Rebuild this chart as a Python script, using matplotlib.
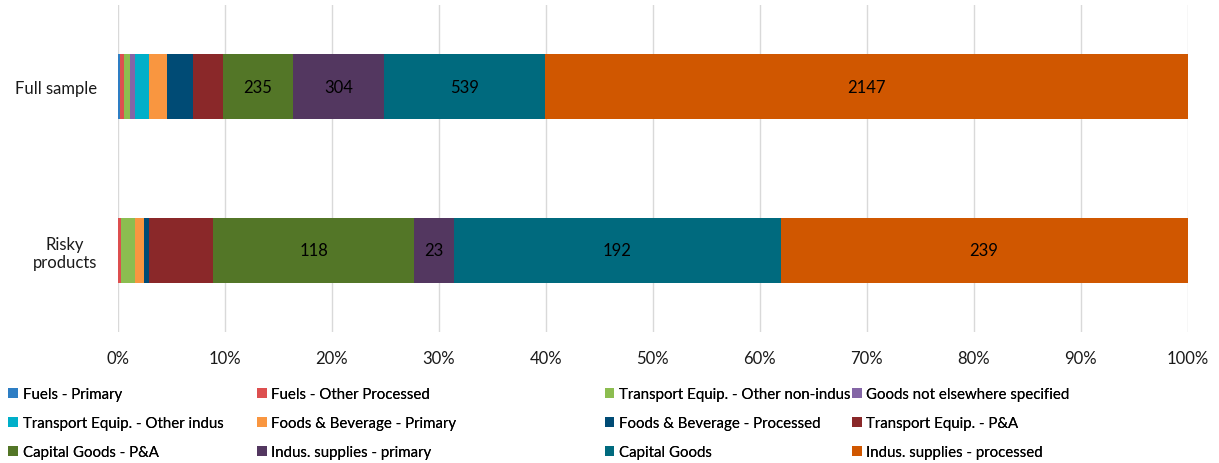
import numpy as np
import matplotlib
matplotlib.use("Agg")
from matplotlib import pyplot as plt

plt.rcParams['font.family'] = ['Lato', 'DejaVu Sans']

groups = ["Risky\nproducts", "Full sample"]

series = ["Fuels - Primary", "Fuels - Other Processed", "Transport Equip. - Other non-indus",
          "Goods not elsewhere specified", "Transport Equip. - Other indus", "Foods & Beverage - Primary",
          "Foods & Beverage - Processed", "Transport Equip. - P&A", "Capital Goods - P&A",
          "Indus. supplies - primary", "Capital Goods", "Indus. supplies - processed"]

# counts per series: [risky products, full sample]
fuels_primary = [0, 6]
fuels_other = [2, 14]
transport_nonindus = [8, 19]
goods_nes = [0, 18]
transport_indus = [0, 47]
foods_primary = [5, 60]
foods_processed = [3, 88]
transport_pa = [38, 99]
capital_pa = [118, 235]
indus_primary = [23, 304]
capital_goods = [192, 539]
indus_processed = [239, 2147]

values = [fuels_primary, fuels_other, transport_nonindus, goods_nes, transport_indus,
          foods_primary, foods_processed, transport_pa, capital_pa, indus_primary,
          capital_goods, indus_processed]

colors = ['#2E7EC4', '#DD4F4F', '#8CBD50', '#8465A6', '#00AFC9', '#F99640',
          '#004B75', '#8A2829', '#537627', '#533760', '#006A7E', '#D05700']

labelled = {"Capital Goods - P&A", "Indus. supplies - primary", "Capital Goods",
            "Indus. supplies - processed"}

counts = np.array(values, dtype=float)
totals = counts.sum(axis=0)
shares = counts / totals * 100

fs = 12
lfs = 10.8

fig = plt.figure(figsize=(12.19, 4.64), dpi=100)
ax = fig.add_axes([0.0968, 0.2823, 0.8774, 0.7047])

y = np.arange(len(groups))
left = np.zeros(len(groups))
handles = []
for name, share, cnt, col in zip(series, shares, counts, colors):
    bars = ax.barh(y, share, left=left, height=0.395, color=col, label=name, zorder=3)
    handles.append(bars)
    if name in labelled:
        for yi, l, s, c in zip(y, left, share, cnt):
            ax.text(l + s / 2, yi, f"{int(c)}", ha='center', va='center', fontsize=fs, color='black', zorder=4)
    left += share

ax.set_xlim(0, 100)
ax.set_ylim(-0.5, 1.5)
ax.set_xticks(np.arange(0, 101, 10))
ax.set_xticklabels([f"{v}%" for v in range(0, 101, 10)], fontsize=fs)
ax.set_yticks(y)
ax.set_yticklabels(groups, fontsize=fs, multialignment='center')
ax.tick_params(axis='both', length=0, colors='#1a1a1a')
ax.tick_params(axis='x', pad=13)
ax.tick_params(axis='y', pad=15)
ax.grid(axis='x', color='#D9D9D9', linewidth=1, zorder=0)
for sp in ax.spines.values():
    sp.set_visible(False)

# legend: four equal-width columns, row-major order
col_x = [0.002, 0.206, 0.491, 0.694]
for k in range(4):
    hs = [handles[k], handles[k + 4], handles[k + 8]]
    leg = fig.legend(hs, [h.get_label() for h in hs], loc='upper left',
                     bbox_to_anchor=(col_x[k], 0.176), frameon=False, fontsize=lfs,
                     handlelength=0.65, handleheight=0.65, handletextpad=0.3,
                     labelspacing=1.0, borderaxespad=0)
    fig.add_artist(leg)

fig.savefig("out.png", dpi=100)
